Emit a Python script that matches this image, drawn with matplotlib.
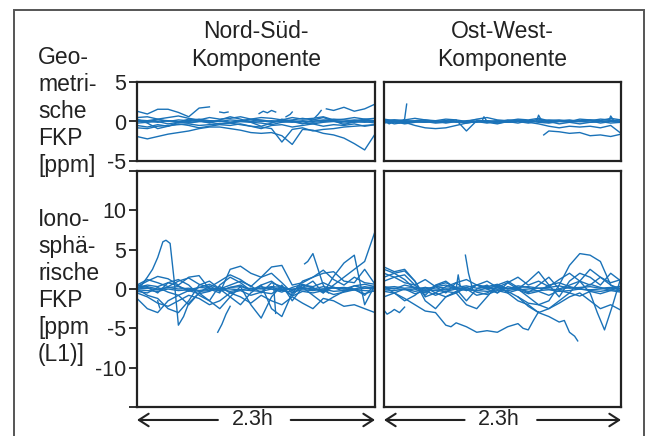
import numpy as np
import matplotlib.pyplot as plt
from matplotlib.patches import Rectangle

plt.rcParams["font.family"] = ["Liberation Sans", "DejaVu Sans"]

BLUE = "#1a72b8"
INK = "#222222"
FS = 16.5      # titles / row labels
FS_TICK = 15.5

# time grid in hours (0.1 h steps over the 2.3 h window)
t = np.round(np.arange(24) * 0.1, 2)

# ── Geometrische FKP, Nord-Süd [ppm] ─────────────────────────
ns_geo_a = [0.2, 0.1, 0.3, 0.0, 0.2, 0.1, 0.3, 0.1, 0.0, 0.2, 0.1, 0.3, 0.2, 0.0, 0.1, 0.2, 0.4, 0.2, 0.1, 0.3, 0.2, 0.1, 0.2, 0.0]
ns_geo_b = [-0.2, -0.1, 0.0, -0.3, -0.1, -0.2, 0.0, -0.1, -0.3, -0.2, 0.0, -0.1, -0.2, -0.4, -0.1, 0.0, -0.2, -0.3, -0.1, 0.0, -0.2, -0.1, 0.0, -0.2]
ns_geo_c = [0.5, 0.6, 0.3, 0.5, 0.7, 0.4, 0.2, 0.5, 0.3, 0.4, 0.6, 0.3, 0.5, 0.4, 0.2, 0.5, 0.3, 0.4, 0.6, 0.2, 0.3, 0.5, 0.3, 0.4]
ns_geo_d = [-0.5, -0.7, -0.4, -0.6, -0.3, -0.5, -0.8, -0.6, -0.4, -0.5, -0.3, -0.6, -0.9, -0.5, -0.4, -0.7, -0.5, -0.3, -0.6, -0.4, -0.5, -0.3, -0.6, -0.4]
ns_geo_e = [0.0, 0.1, -0.1, 0.1, 0.0, -0.1, 0.0, 0.1, 0.0, -0.1, 0.0, 0.0, 0.1, -0.1, 0.0, 0.1, 0.0, -0.1, 0.0, 0.1, 0.0, 0.0, -0.1, 0.0]
ns_geo_f = [0.3, -0.2, -0.9, -0.6, -0.1, 0.3, 0.1, -0.2, 0.2, 0.6, 0.3, -0.1, -0.6, -0.2, 0.3, 0.0, -0.3, 0.2, 0.5, 0.1, -0.4, 0.0, 0.3, 0.1]
ns_geo_g = [-0.8, -0.9, -0.6, -0.5, -0.4, -0.3, -0.5, -0.4, -0.3, -0.2, -0.4, -0.6, -0.7, -0.9, -2.6, -1.0, -0.8, -1.2, -1.0, -0.9, -0.7, -0.6, -0.5, -0.4]
ns_geo_h = [0.1, 0.0, 0.2, 0.1, -0.1, 0.0, 0.2, 0.0, 0.1, -0.1, 0.1, 0.2, 0.0, 0.1, 0.0, -0.1, 0.1, 0.0, 0.2, 0.1, 0.0, 0.2, 0.1, 0.0]
ns_geo_low = [-1.9, -2.2, -1.9, -1.6, -1.4, -1.2, -0.9, -0.7, -0.7, -0.9, -1.1, -1.4, -1.5, -1.4, -1.8, -2.9, -1.0, -1.1, -1.5, -1.7, -2.1, -2.8, -3.6, -1.6]
ns_geo_up = [1.3, 0.95, 1.55, 1.55, 1.15, 0.6, 1.7, 1.85]
ns_geo_end_t = [1.83, 1.9, 2.0, 2.1, 2.2, 2.3]
ns_geo_end = [1.6, 1.4, 1.8, 1.3, 1.6, 2.2]
ns_geo_fr1_t = [0.8, 0.84, 0.88]
ns_geo_fr1 = [1.2, 1.1, 1.2]
ns_geo_fr2_t = [1.18, 1.22, 1.26, 1.3, 1.34]
ns_geo_fr2 = [1.0, 1.3, 1.1, 1.4, 1.2]
ns_geo_fr3_t = [1.44, 1.48, 1.5]
ns_geo_fr3 = [0.6, 0.9, 1.2]
ns_geo_fr4_t = [1.72, 1.75, 1.78]
ns_geo_fr4 = [0.5, 0.9, 1.4]

# ── Geometrische FKP, Ost-West [ppm] ─────────────────────────
ow_geo_a = [0.1, -0.3, -0.1, -0.5, -0.8, -0.9, -0.8, -0.5, -0.2, 0.0, -0.2, 0.1, -0.1, 0.0, -0.2, 0.1, 0.0, -0.3, -0.1, 0.0, 0.1, -0.2, 0.0, -0.1]
ow_geo_b = [0.0, 0.2, 0.1, 0.0, 0.1, -0.1, 0.0, 0.2, -1.2, 0.1, 0.0, -0.1, 0.2, 0.1, 0.0, 0.3, 0.0, 0.1, 0.2, 0.0, 0.1, 0.3, 0.2, 0.0]
ow_geo_c = [-0.2, 0.0, -0.3, -0.1, 0.0, -0.2, -0.1, 0.0, -0.2, 0.0, -0.1, -0.3, 0.0, -0.2, 0.1, -0.1, -0.2, 0.0, -0.1, -0.3, -0.1, 0.0, -0.2, -0.1]
ow_geo_d = [0.3, 0.1, 0.2, 0.4, 0.2, 0.1, 0.3, 0.2, 0.0, 0.3, 0.5, 0.2, 0.1, 0.3, 0.2, 0.4, 0.1, 0.2, 0.0, 0.3, 0.2, 0.1, 0.4, 0.2]
ow_geo_e = [0.0, -0.1, 0.1, 0.0, -0.1, 0.0, 0.1, 0.0, 0.0, -0.1, 0.1, 0.0, -0.1, 0.0, 0.1, 0.0, -0.1, 0.0, 0.1, 0.0, -0.1, 0.0, 0.1, 0.0]
ow_geo_f = [-0.1, 0.0, -0.2, 0.0, -0.1, 0.1, -0.2, 0.0, -0.1, 0.0, 0.1, -0.2, 0.0, 0.1, -0.1, -0.3, -0.6, -0.8, -0.6, -0.7, -0.6, -0.8, -0.5, -1.5]
ow_geo_g = [0.1, 0.2, 0.0, 0.1, 0.2, 0.0, 0.1, -0.1, 0.1, 0.2, 0.0, 0.1, 0.0, 0.2, 0.1, 0.0, 0.2, 0.1, 0.0, 0.1, 0.2, 0.0, 0.1, 0.2]
ow_geo_spike_t = [0.0, 0.05, 0.1, 0.15, 0.2, 0.22]
ow_geo_spike = [0.1, -0.3, 0.0, -0.2, 0.3, 2.2]
ow_geo_low_t = [1.55, 1.6, 1.7, 1.8, 1.9, 2.0, 2.1, 2.2, 2.3]
ow_geo_low = [-1.7, -1.2, -1.3, -1.5, -1.4, -1.8, -1.7, -1.9, -1.6]
ow_geo_fr1_t = [0.95, 0.97, 1.0]
ow_geo_fr1 = [0.0, 0.6, 0.0]
ow_geo_fr2_t = [1.48, 1.5, 1.53]
ow_geo_fr2 = [0.0, 0.8, 0.1]
ow_geo_fr3_t = [2.18, 2.2, 2.23]
ow_geo_fr3 = [0.0, 0.7, 0.1]

# ── Ionosphärische FKP, Nord-Süd [ppm (L1)] ──────────────────
ns_ion_peak_t = [0.0, 0.05, 0.1, 0.15, 0.2, 0.25, 0.28, 0.32, 0.36, 0.4, 0.45, 0.5, 0.6, 0.7, 0.8, 0.9, 1.0,
                 1.1, 1.2, 1.3, 1.4, 1.5, 1.6, 1.7, 1.8, 1.9, 2.0, 2.1, 2.2, 2.3]
ns_ion_peak = [0.0, 0.6, 1.5, 2.5, 4.0, 6.0, 6.2, 5.8, 1.0, -4.6, -3.5, -1.8, -0.5, 0.4, -0.3, 0.2, 0.5,
               -0.2, 0.3, 0.0, -0.4, 0.2, 0.6, 0.1, -0.3, 0.2, 0.0, 0.4, 0.1, 0.3]
ns_ion_a = [0.3, 1.0, 1.6, 1.3, 0.5, 1.5, 1.7, 0.0, -0.5, 2.5, 2.9, 2.0, 1.5, 2.8, 3.0, 0.5, 0.8, 1.5, 2.0, 2.2, 1.0, 0.8, 2.5, 0.6]
ns_ion_b = [-1.2, -2.5, -3.0, -1.5, -0.8, -2.0, -0.5, -1.5, -2.5, -1.0, 0.3, -2.0, -3.7, -1.0, 0.5, -1.5, 0.2, 1.0, -0.5, 1.6, 3.3, 4.3, -2.0, 0.5]
ns_ion_c = [0.5, 0.2, -0.5, 0.8, 1.2, 0.5, -0.8, -1.5, 0.5, 1.5, 0.8, -0.2, 0.5, 1.0, 0.0, -0.8, 0.5, 0.2, -0.5, 0.5, 1.5, 2.5, 3.5, 7.3]
ns_ion_d = [-0.5, -1.0, -1.8, -2.2, -1.5, -0.8, -1.2, -2.0, -1.5, -0.5, -1.0, -1.8, -0.8, -1.5, -2.0, -1.0, -1.8, -2.5, -1.2, -1.5, -2.2, -2.0, -2.5, -3.0]
ns_ion_e = [0.0, -0.8, -1.2, -2.5, -3.0, -1.5, 0.5, 1.0, 0.0, -1.0, -2.0, -0.5, 0.5, -2.5, -3.5, -0.5, 0.2, -0.8, -1.8, -1.0, -0.3, 0.0, -0.8, 0.5]
ns_ion_f = [0.2, 0.5, 0.3, 0.8, 0.4, -0.3, 0.2, 0.6, 0.0, 0.5, 1.0, 0.4, -0.5, 0.8, 0.3, -0.2, 0.5, 0.3, 0.8, 0.2, -0.3, 0.4, 0.6, 0.3]
ns_ion_g = [-0.3, -0.5, 0.2, -0.4, -0.8, -0.2, -0.6, -0.3, 0.3, -0.5, -0.2, -0.8, -0.4, -0.6, 0.2, -0.9, -0.3, -0.5, -0.2, -0.7, -0.4, -0.1, -0.6, -0.2]
ns_ion_h = [0.0, 0.1, -0.1, 0.2, 0.0, 0.1, -0.2, 0.0, 0.1, 0.0, -0.1, 0.1, 0.0, 0.2, -0.1, 0.0, 0.1, -0.1, 0.0, 0.2, 0.0, -0.1, 0.1, 0.0]
ns_ion_i = [0.5, 1.2, 0.8, 0.3, 1.0, 1.4, 0.6, 0.2, 1.0, 1.8, 1.2, 0.3, 1.5, 2.0, 0.8, -0.5, 1.0, 1.5, 2.4, 1.2, 0.5, 1.5, 0.8, 0.6]
ns_ion_j = [0.1, 0.3, 0.0, 0.2, 0.3, -0.1, 0.2, 0.1, -0.2, 0.2, 0.3, 0.0, 0.1, 0.3, 0.2, -0.1, 0.2, 0.0, 0.3, 0.1, 0.2, 0.0, 0.3, 0.1]
ns_ion_k = [-0.1, -0.2, -0.3, 0.0, -0.2, -0.1, -0.3, -0.2, 0.0, -0.3, -0.1, -0.2, -0.3, 0.0, -0.2, -0.4, -0.1, -0.2, 0.0, -0.3, -0.2, -0.1, -0.2, -0.3]
ns_ion_fr1_t = [0.78, 0.82, 0.86, 0.9]
ns_ion_fr1 = [-5.5, -4.5, -3.2, -2.2]
ns_ion_fr2_t = [0.2, 0.21, 0.22]
ns_ion_fr2 = [-1.5, -2.0, -2.4]
ns_ion_fr3_t = [1.62, 1.65, 1.7, 1.75, 1.8, 1.85]
ns_ion_fr3 = [3.2, 3.5, 4.5, 2.5, 0.5, -0.5]
ns_ion_fr4_t = [1.32, 1.34]
ns_ion_fr4 = [0.5, -3.1]

# ── Ionosphärische FKP, Ost-West [ppm (L1)] ──────────────────
ow_ion_long_t = [0.0, 0.1, 0.2, 0.3, 0.4, 0.5, 0.6, 0.65, 0.7, 0.8, 0.9, 1.0, 1.1, 1.2, 1.3, 1.35, 1.4, 1.45, 1.5]
ow_ion_long = [0.3, -0.5, -1.2, -2.0, -2.8, -3.0, -4.6, -4.8, -4.3, -4.8, -5.5, -5.3, -5.5, -4.8, -4.4, -5.0, -5.2, -4.0, -2.9]
ow_ion_drop_t = [1.3, 1.4, 1.5, 1.6, 1.7, 1.75, 1.8, 1.85, 1.88]
ow_ion_drop = [-1.0, -2.2, -3.0, -3.5, -4.2, -4.0, -5.5, -6.0, -6.6]
ow_ion_bump = [1.5, 2.0, 1.2, 0.0, -0.5, 0.3, 0.5, 0.0, 0.2, 0.5, 0.0, -0.5, 0.3, 0.0, -1.0, -2.0, -1.5, 0.5, 3.0, 4.5, 4.3, 3.5, 0.5, -0.3]
ow_ion_dip_t = [0.0, 0.1, 0.2, 0.3, 0.4, 0.5, 0.6, 0.7, 0.8, 0.9, 1.0, 1.1, 1.2, 1.3, 1.4, 1.5, 1.6, 1.7, 1.8, 1.9,
                2.0, 2.07, 2.14, 2.22, 2.3]
ow_ion_dip = [2.5, 2.0, 2.3, 1.0, -1.0, -0.5, 0.3, 0.8, -0.2, 0.5, 0.0, 0.5, 1.0, 0.2, -0.5, 0.5, 1.5, 0.0, 0.5, 1.0,
              -0.5, -3.0, -5.2, -2.0, 1.5]
ow_ion_a = [2.8, 2.2, 2.5, 1.0, -1.5, -2.5, -1.0, -0.5, -2.0, -2.5, -1.0, 0.5, -0.5, -1.5, -2.0, -3.0, -2.5, -1.5, -0.5, 1.0, 2.5, 1.5, 0.5, 0.0]
ow_ion_b = [2.0, 1.5, 1.8, 0.5, -0.8, 0.5, 1.0, 0.0, -1.5, 0.0, 0.5, -0.5, 0.8, 0.0, 1.0, 2.2, 0.5, -1.0, 1.0, 2.0, 1.5, 0.5, 2.0, 1.0]
ow_ion_c = [-1.0, -0.5, -1.5, -0.8, 0.2, -0.5, -1.0, -0.3, 0.0, -0.8, -0.5, 0.2, -0.3, -1.0, -1.8, -2.0, -2.5, -1.8, -1.0, -0.5, -1.5, -2.5, -2.0, -2.7]
ow_ion_d = [0.3, 0.0, 0.5, 0.2, -0.3, 0.4, 0.8, 0.2, -0.2, 0.5, 0.3, 0.6, 0.0, 0.4, 0.2, -0.3, 0.5, 0.8, 0.3, 0.0, 0.6, 0.2, -0.2, 0.4]
ow_ion_e = [-0.3, -0.5, 0.0, -0.6, -0.2, -0.8, -0.3, -0.5, 0.2, -0.4, -0.7, -0.2, -0.5, -0.1, -0.6, -0.3, -0.8, -0.2, -0.5, -0.9, -0.3, -0.6, -0.2, -0.4]
ow_ion_f = [0.0, 0.1, -0.1, 0.0, 0.2, 0.0, -0.1, 0.1, 0.0, -0.2, 0.1, 0.0, 0.1, -0.1, 0.0, 0.1, 0.0, -0.1, 0.2, 0.0, -0.1, 0.0, 0.1, 0.0]
ow_ion_g = [1.0, 1.5, 0.8, 0.5, 1.2, 0.3, -0.5, 0.8, 1.2, 0.5, 1.0, 0.2, 0.8, 1.5, 0.5, 1.0, 0.3, 1.2, 2.0, 1.0, 0.5, 1.5, 0.8, 1.2]
ow_ion_h = [0.2, 0.3, 0.1, 0.2, 0.0, 0.3, 0.1, 0.2, 0.4, 0.1, 0.2, 0.3, 0.0, 0.2, 0.3, 0.1, 0.2, 0.4, 0.1, 0.2, 0.3, 0.1, 0.2, 0.3]
ow_ion_i = [-0.1, -0.2, 0.0, -0.3, -0.1, -0.2, -0.3, 0.0, -0.1, -0.2, -0.3, -0.1, -0.2, 0.0, -0.3, -0.2, -0.1, -0.3, -0.2, 0.0, -0.2, -0.3, -0.1, -0.2]
ow_ion_fr1_t = [0.0, 0.03, 0.07, 0.1, 0.15, 0.2]
ow_ion_fr1 = [-2.7, -3.2, -2.9, -2.6, -3.0, -2.3]
ow_ion_fr2_t = [0.79, 0.82, 0.86]
ow_ion_fr2 = [4.3, 2.0, 0.0]
ow_ion_fr3_t = [0.7, 0.72, 0.74]
ow_ion_fr3 = [0.0, 1.8, 0.3]

col_titles = ["Nord-Süd-\nKomponente", "Ost-West-\nKomponente"]
row_labels = ["Geo-\nmetri-\nsche\nFKP\n[ppm]", "Iono-\nsphä-\nrische\nFKP\n[ppm\n(L1)]"]
span_label = "2.3h"

panels = {
    (0, 0): [(t, ns_geo_a), (t, ns_geo_b), (t, ns_geo_c), (t, ns_geo_d), (t, ns_geo_e), (t, ns_geo_f),
             (t, ns_geo_g), (t, ns_geo_h), (t, ns_geo_low), (t[:8], ns_geo_up), (ns_geo_end_t, ns_geo_end),
             (ns_geo_fr1_t, ns_geo_fr1), (ns_geo_fr2_t, ns_geo_fr2), (ns_geo_fr3_t, ns_geo_fr3),
             (ns_geo_fr4_t, ns_geo_fr4)],
    (0, 1): [(t, ow_geo_a), (t, ow_geo_b), (t, ow_geo_c), (t, ow_geo_d), (t, ow_geo_e), (t, ow_geo_f),
             (t, ow_geo_g), (ow_geo_spike_t, ow_geo_spike), (ow_geo_low_t, ow_geo_low),
             (ow_geo_fr1_t, ow_geo_fr1), (ow_geo_fr2_t, ow_geo_fr2), (ow_geo_fr3_t, ow_geo_fr3)],
    (1, 0): [(ns_ion_peak_t, ns_ion_peak), (t, ns_ion_a), (t, ns_ion_b), (t, ns_ion_c), (t, ns_ion_d),
             (t, ns_ion_e), (t, ns_ion_f), (t, ns_ion_g), (t, ns_ion_h), (t, ns_ion_i), (t, ns_ion_j),
             (t, ns_ion_k), (ns_ion_fr1_t, ns_ion_fr1), (ns_ion_fr2_t, ns_ion_fr2),
             (ns_ion_fr3_t, ns_ion_fr3), (ns_ion_fr4_t, ns_ion_fr4)],
    (1, 1): [(ow_ion_long_t, ow_ion_long), (ow_ion_drop_t, ow_ion_drop), (t, ow_ion_bump),
             (ow_ion_dip_t, ow_ion_dip), (t, ow_ion_a), (t, ow_ion_b), (t, ow_ion_c), (t, ow_ion_d),
             (t, ow_ion_e), (t, ow_ion_f), (t, ow_ion_g), (t, ow_ion_h), (t, ow_ion_i),
             (ow_ion_fr1_t, ow_ion_fr1), (ow_ion_fr2_t, ow_ion_fr2), (ow_ion_fr3_t, ow_ion_fr3)],
}

W, H = 647, 436
fig = plt.figure(figsize=(W / 100, H / 100), dpi=100)

# outer frame (runs off the bottom edge like the scan)
fig.add_artist(Rectangle((14 / W, -0.05), 630 / W, 1 - 10 / H + 0.05, transform=fig.transFigure,
                         fill=False, edgecolor="#555555", lw=1.4))

# ── Axes layout (pixel boxes) ─────────────────────────────────
col_x = [(137, 375), (384, 621)]
row_y = [(82, 161), (171, 407)]
ylims = [(-5, 5), (-15, 15)]

axes = {}
for r, (y0, y1) in enumerate(row_y):
    for c, (x0, x1) in enumerate(col_x):
        ax = fig.add_axes([x0 / W, 1 - y1 / H, (x1 - x0) / W, (y1 - y0) / H])
        for x, y in panels[(r, c)]:
            ax.plot(x, y, color=BLUE, lw=1.0, solid_joinstyle="round")
        ax.set_xlim(0, 2.3)
        ax.set_ylim(*ylims[r])
        ax.set_xticks([])
        for s in ax.spines.values():
            s.set_linewidth(1.6)
            s.set_color(INK)
        if c == 0:
            ax.tick_params(axis="y", direction="out", length=6, width=1.3, color=INK,
                           labelsize=FS_TICK, labelcolor=INK, pad=2)
        else:
            ax.set_yticks([])
        axes[(r, c)] = ax

axes[(0, 0)].set_yticks([-5, 0, 5], ["-5", "0", "5"])
axes[(1, 0)].set_yticks([-15, -10, -5, 0, 5, 10, 15], ["", "-10", "-5", "0", "5", "10", ""])

# ── Titles and row labels ────────────────────────────────────
for c, (x0, x1) in enumerate(col_x):
    fig.text((x0 + x1) / 2 / W, 1 - 20 / H, col_titles[c], ha="center", va="top",
             fontsize=FS, color=INK, linespacing=1.3)
fig.text(38 / W, 1 - 46 / H, row_labels[0], ha="left", va="top", fontsize=FS, color=INK, linespacing=1.22)
fig.text(38 / W, 1 - 208 / H, row_labels[1], ha="left", va="top", fontsize=FS, color=INK, linespacing=1.22)

# ── 2.3h span arrows under the lower panels ──────────────────
arrow = dict(arrowstyle="->,head_length=0.7,head_width=0.45", lw=1.5, color=INK, shrinkA=0, shrinkB=0)
for c in range(2):
    ax = axes[(1, c)]
    ax.annotate("", xy=(0, -0.055), xytext=(0.34, -0.055), xycoords="axes fraction",
                arrowprops=arrow, annotation_clip=False)
    ax.annotate("", xy=(1, -0.055), xytext=(0.646, -0.055), xycoords="axes fraction",
                arrowprops=arrow, annotation_clip=False)
    ax.text(0.485, -0.055, span_label, transform=ax.transAxes, ha="center", va="center",
            fontsize=FS_TICK, color=INK, clip_on=False)

fig.savefig("out.png", dpi=100)
